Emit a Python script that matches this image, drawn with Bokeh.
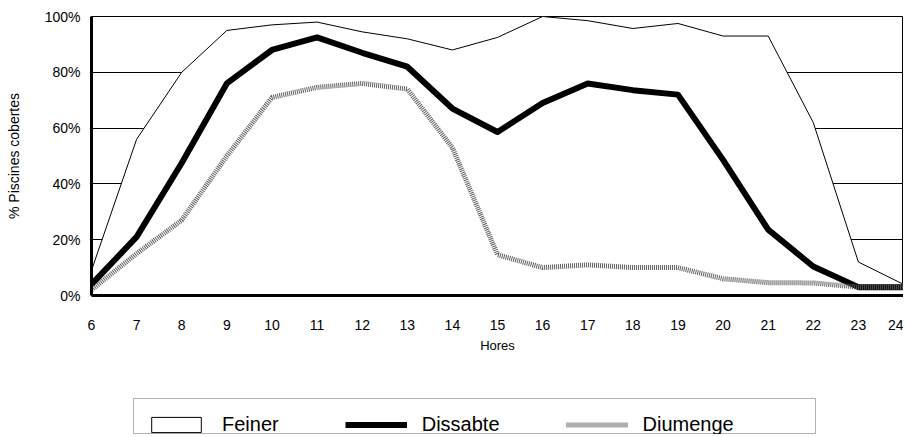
from bokeh.plotting import figure
from bokeh.layouts import column
from bokeh.models import (Legend, LegendItem, PrintfTickFormatter, FixedTicker,
                          Range1d, BoxAnnotation)
from bokeh.embed import file_html
from bokeh.resources import INLINE

hores = [6, 7, 8, 9, 10, 11, 12, 13, 14, 15, 16, 17, 18, 19, 20, 21, 22, 23, 24]
feiner = [9, 56, 80, 95, 97, 98, 94.5, 92, 88, 92.5, 100, 98.5, 95.7, 97.5, 93, 93, 62, 12, 4]
dissabte = [4, 21, 47.5, 76, 88, 92.5, 87, 82, 67, 58.6, 69, 76, 73.6, 72, 48.6, 23.6, 10.4, 3, 3]
diumenge = [2, 15, 27, 50, 71, 74.6, 76, 74, 53, 14.6, 10, 11, 10, 10, 6, 4.6, 4.5, 3, 3]
y_ticks = [0, 20, 40, 60, 80, 100]
series_names = ["Feiner", "Dissabte", "Diumenge"]

FONT = "Liberation Sans"
FEINER_STYLE = dict(fill_color="white", line_color="black", line_width=1)
DISSABTE_STYLE = dict(line_color="black", line_width=6, line_join="round")
DIUMENGE_STYLE = dict(line_color="#5f5f5f", line_width=5, line_dash="1 1")

W = 903
LEFT = 91
p = figure(width=W, height=359, output_backend="svg", toolbar_location=None,
           x_range=Range1d(6, 24), y_range=Range1d(0, 100),
           min_border_left=LEFT, min_border_right=0, min_border_top=16,
           min_border_bottom=64)

# Feiner as white area with thin outline (covers the grid lines)
px = hores + hores[::-1]
py = feiner + [0] * len(hores)
p.patch(px, py, **FEINER_STYLE)
p.line(hores, dissabte, **DISSABTE_STYLE)
p.line(hores, diumenge, **DIUMENGE_STYLE)

p.xaxis.ticker = FixedTicker(ticks=hores)
p.yaxis.ticker = FixedTicker(ticks=y_ticks)
p.yaxis.formatter = PrintfTickFormatter(format="%d%%")

p.xgrid.grid_line_color = None
p.ygrid.grid_line_color = "black"
p.ygrid.grid_line_width = 1

for ax in (p.xaxis[0], p.yaxis[0]):
    ax.major_tick_line_color = None
    ax.minor_tick_line_color = None
    ax.major_tick_out = 0
    ax.major_tick_in = 0
    ax.axis_line_color = "black"
    ax.axis_line_width = 3
    ax.major_label_text_font = FONT
    ax.major_label_text_font_size = "14px"
    ax.major_label_text_font_style = "normal"
    ax.major_label_text_color = "black"
    ax.axis_label_text_font = FONT
    ax.axis_label_text_font_size = "14px"
    ax.axis_label_text_font_style = "normal"
    ax.axis_label_text_color = "black"

p.xaxis.axis_label = "Hores"
p.xaxis.major_label_standoff = 24
p.xaxis.axis_label_standoff = 5
p.xaxis.axis_label_text_font_size = "13px"
p.yaxis.axis_label = "% Piscines cobertes"
p.yaxis.major_label_standoff = 11
p.yaxis.axis_label_standoff = 20

p.outline_line_color = "black"
p.outline_line_width = 1

# legend panel below, same horizontal borders as the chart (1 unit = 1 px)
LH = 75
p2 = figure(width=W, height=LH, output_backend="svg", toolbar_location=None,
            x_range=Range1d(0, W - LEFT), y_range=Range1d(0, LH),
            x_axis_location=None, y_axis_location=None,
            min_border_left=LEFT, min_border_right=0, min_border_top=0,
            min_border_bottom=0)
p2.xgrid.grid_line_color = None
p2.ygrid.grid_line_color = None
p2.outline_line_color = None

nan = float("nan")
l_f = p2.patch([nan], [nan], **FEINER_STYLE)
l_s = p2.line([nan], [nan], **DISSABTE_STYLE)
l_d = p2.line([nan], [nan], **DIUMENGE_STYLE)

# legend border box (Excel style, wider than its content)
p2.add_layout(BoxAnnotation(left=42, right=724, bottom=1, top=36,
                            fill_alpha=0, line_color="black", line_width=1,
                            level="overlay"))

legend = Legend(items=[LegendItem(label=series_names[0], renderers=[l_f]),
                       LegendItem(label=series_names[1], renderers=[l_s]),
                       LegendItem(label=series_names[2], renderers=[l_d])],
                orientation="horizontal", location=(54, -2),
                label_text_font=FONT, label_text_font_size="20px",
                label_text_color="black",
                glyph_width=62, glyph_height=19, label_standoff=15, spacing=66,
                padding=0, margin=0,
                border_line_color=None, background_fill_alpha=0)
p2.add_layout(legend, "center")

open("out.html", "w").write(file_html(column(p, p2), INLINE))
